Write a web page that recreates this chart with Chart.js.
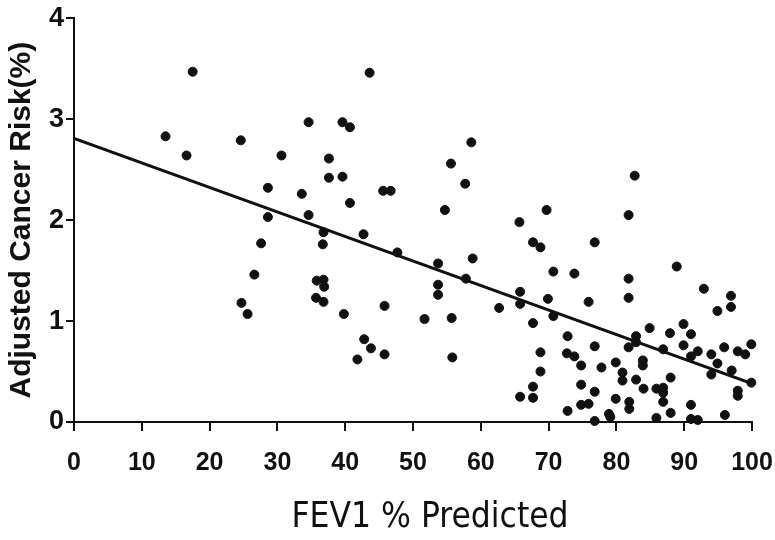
<!DOCTYPE html>
<html>
<head>
<meta charset="utf-8">
<title>FEV1 vs Adjusted Cancer Risk</title>
<script src="https://cdn.jsdelivr.net/npm/chart.js@4.4.1/dist/chart.umd.min.js"></script>
<style>
  html, body { margin: 0; padding: 0; background: #fff; }
  #wrap { width: 775px; height: 540px; }
</style>
</head>
<body>
<div id="wrap"><canvas id="chart" width="775" height="540"></canvas></div>
<script>
// FEV1 % predicted for each subject
const fevValues = [
  17.5, 13.5, 16.6, 24.6, 43.6, 34.6, 39.6, 40.7, 30.6, 37.6,
  37.6, 39.6, 28.6, 33.6, 45.6, 46.7, 40.7, 28.6, 34.6, 42.7,
  58.6, 55.6, 57.7, 54.7, 82.7, 69.7, 65.7, 81.8, 27.6, 26.6,
  24.7, 25.6, 36.8, 36.7, 47.7, 53.7, 58.8, 57.8, 53.7, 53.7,
  35.8, 36.8, 36.9, 35.7, 36.8, 39.8, 45.8, 51.7, 55.7, 62.7,
  42.8, 43.8, 45.8, 41.8, 55.8, 67.7, 68.8, 76.8, 70.7, 73.8,
  88.9, 81.8, 81.8, 92.9, 96.9, 96.9, 94.9, 65.8, 65.8, 69.9,
  75.9, 70.7, 67.7, 72.8, 84.9, 87.9, 89.9, 91.0, 82.9, 82.9,
  81.8, 89.9, 86.9, 92.0, 91.0, 95.9, 97.9, 99.0, 99.9, 99.9,
  94.0, 94.9, 94.0, 97.0, 97.9, 97.9, 76.8, 68.8, 68.8, 67.7,
  65.8, 67.7, 72.7, 73.8, 74.8, 77.8, 74.8, 76.8, 74.8, 75.9,
  72.8, 76.8, 78.9, 79.1, 79.9, 80.9, 80.9, 79.9, 81.9, 81.9,
  82.9, 83.9, 83.9, 84.0, 85.9, 86.9, 86.9, 88.0, 86.9, 88.0,
  85.9, 91.0, 91.0, 92.0, 96.0
];

// adjusted cancer risk (%) for the same subjects
const riskValues = [
  3.47, 2.83, 2.64, 2.79, 3.46, 2.97, 2.97, 2.92, 2.64, 2.61,
  2.42, 2.43, 2.32, 2.26, 2.29, 2.29, 2.17, 2.03, 2.05, 1.86,
  2.77, 2.56, 2.36, 2.10, 2.44, 2.10, 1.98, 2.05, 1.77, 1.46,
  1.18, 1.07, 1.88, 1.76, 1.68, 1.57, 1.62, 1.42, 1.36, 1.26,
  1.40, 1.41, 1.34, 1.23, 1.19, 1.07, 1.15, 1.02, 1.03, 1.13,
  0.82, 0.73, 0.67, 0.62, 0.64, 1.78, 1.73, 1.78, 1.49, 1.47,
  1.54, 1.42, 1.23, 1.32, 1.25, 1.14, 1.10, 1.29, 1.17, 1.22,
  1.19, 1.05, 0.98, 0.85, 0.93, 0.88, 0.97, 0.87, 0.85, 0.79,
  0.74, 0.76, 0.72, 0.70, 0.65, 0.74, 0.70, 0.67, 0.77, 0.39,
  0.67, 0.58, 0.47, 0.51, 0.31, 0.26, 0.75, 0.69, 0.50, 0.35,
  0.25, 0.24, 0.68, 0.65, 0.56, 0.54, 0.37, 0.30, 0.17, 0.18,
  0.11, 0.01, 0.08, 0.05, 0.59, 0.49, 0.41, 0.23, 0.20, 0.13,
  0.42, 0.61, 0.56, 0.33, 0.33, 0.34, 0.29, 0.44, 0.20, 0.09,
  0.04, 0.17, 0.03, 0.02, 0.07
];

// regression line end points
const fitX = [0, 100];
const fitY = [2.81, 0.38];

const xTicks = [0, 10, 20, 30, 40, 50, 60, 70, 80, 90, 100];
const yTicks = [0, 1, 2, 3, 4];
const xTitle = 'FEV1 % Predicted';

// x title sits a bit right of the plot centre in the original, so draw it by hand
const xTitlePlugin = {
  id: 'xTitle',
  afterDraw(chart) {
    const c = chart.ctx;
    const area = chart.chartArea;
    c.save();
    c.fillStyle = '#111';
    c.font = '35px "Liberation Sans Narrow", "DejaVu Sans Condensed", sans-serif';
    c.textAlign = 'center';
    c.textBaseline = 'middle';
    c.fillText(xTitle, (area.left + area.right) / 2 + 17, 518);
    c.restore();
  },
};

const ctx = document.getElementById('chart').getContext('2d');

new Chart(ctx, {
  type: 'scatter',
  data: {
    datasets: [
      {
        label: 'Subjects',
        data: fevValues.map((x, i) => ({ x: x, y: riskValues[i] })),
        backgroundColor: '#111',
        borderColor: '#111',
        pointRadius: 4.5,
        pointHoverRadius: 4.5,
        clip: false,
      },
      {
        label: 'Fit',
        type: 'line',
        data: fitX.map((x, i) => ({ x: x, y: fitY[i] })),
        borderColor: '#111',
        borderWidth: 3,
        pointRadius: 0,
        fill: false,
      },
    ],
  },
  plugins: [xTitlePlugin],
  options: {
    responsive: false,
    animation: false,
    layout: { padding: { top: 14, right: 0, left: 0, bottom: 0 } },
    plugins: {
      legend: { display: false },
      tooltip: { enabled: false },
    },
    scales: {
      x: {
        type: 'linear',
        min: 0,
        max: 100,
        afterBuildTicks: (scale) => { scale.ticks = xTicks.map((v) => ({ value: v })); },
        afterFit: (scale) => {
          scale.height = 118;
          // keep the 100 tick at the same spot as the original
          scale.paddingRight = 23;
        },
        grid: { display: true, drawOnChartArea: false, drawTicks: true, tickLength: 9, color: '#111', lineWidth: 2 },
        border: { display: true, color: '#111', width: 2 },
        ticks: {
          color: '#111',
          padding: 17,
          maxRotation: 0,
          font: { family: 'Liberation Sans, Arial, sans-serif', size: 25, weight: 'bold' },
        },
        title: { display: false },
      },
      y: {
        type: 'linear',
        min: 0,
        max: 4,
        afterBuildTicks: (scale) => { scale.ticks = yTicks.map((v) => ({ value: v })); },
        afterFit: (scale) => { scale.width = 74; },
        grid: { display: true, drawOnChartArea: false, drawTicks: true, tickLength: 8, color: '#111', lineWidth: 2 },
        border: { display: true, color: '#111', width: 2 },
        ticks: {
          color: '#111',
          padding: 2,
          font: { family: 'Liberation Sans, Arial, sans-serif', size: 27, weight: 'bold' },
        },
        title: {
          display: true,
          text: 'Adjusted Cancer Risk(%)',
          color: '#111',
          padding: { top: 4, bottom: 0 },
          font: { family: 'Liberation Sans, Arial, sans-serif', size: 30, weight: 'bold' },
        },
      },
    },
  },
});
</script>
</body>
</html>
